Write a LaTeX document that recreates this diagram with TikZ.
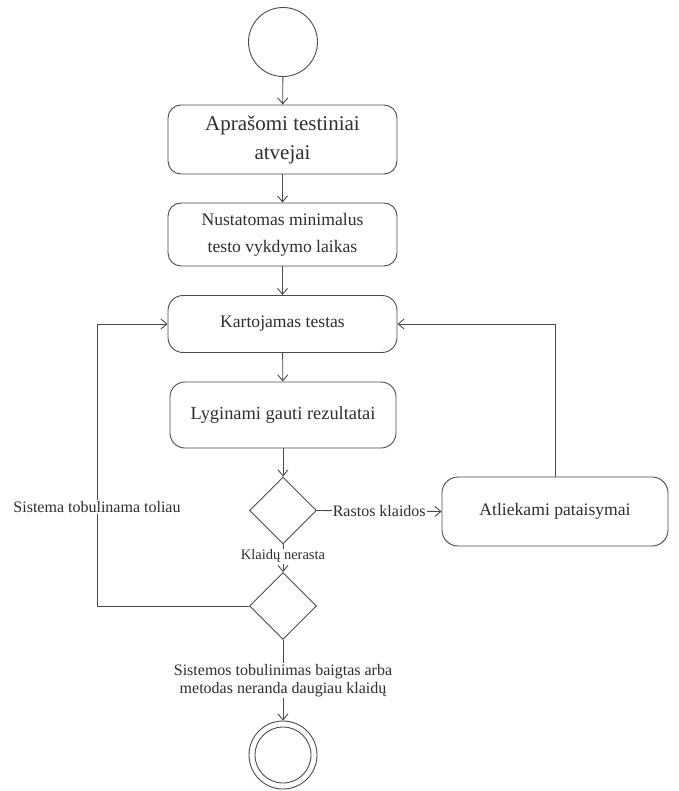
\documentclass[tikz,border=0pt]{standalone}
\usepackage{fontspec}
\newfontfamily\ff{Liberation Serif}
\usetikzlibrary{arrows.meta,shapes.geometric}
\definecolor{ln}{HTML}{4A4A4A}
\definecolor{tx}{HTML}{2E2E2E}
\tikzset{
  act/.style={draw=ln, line width=0.9pt, rounded corners=13pt, align=center, text=tx,
    inner sep=0pt, font=\ff\fontsize{17.6}{27}\selectfont},
  dec/.style={draw=ln, line width=0.9pt, diamond, minimum width=67pt, minimum height=67pt, inner sep=0pt},
  flow/.style={draw=ln, line width=0.9pt, -{Straight Barb[length=6pt,width=10pt]}},
  lbl/.style={fill=white, text=tx, inner sep=1pt, font=\ff\fontsize{16}{18}\selectfont, align=center},
  startc/.style={draw=ln, line width=0.9pt, circle, minimum size=69pt, inner sep=0pt},
}
\begin{document}
\begin{tikzpicture}[x=1pt,y=-1pt]
\useasboundingbox (0,0) rectangle (678,791);
\node[startc] (s) at (283,42) {};
\node[act, minimum width=229pt, minimum height=69pt, font=\ff\fontsize{21}{29}\selectfont] (a1) at (282.5,139.5) {Aprašomi testiniai\\atvejai};
\node[act, minimum width=229pt, minimum height=63pt] (a2) at (282.5,234.5) {Nustatomas minimalus\\testo vykdymo laikas};
\node[act, minimum width=229pt, minimum height=57pt, rounded corners=15pt] (a3) at (282.5,324) {Kartojamas testas};
\node[act, minimum width=226pt, minimum height=66pt, rounded corners=15pt, font=\ff\fontsize{18.4}{24}\selectfont] (a4) at (283,415) {Lyginami gauti rezultatai};
\node[dec] (d1) at (283,510.5) {};
\node[act, minimum width=226pt, minimum height=69pt, rounded corners=16pt] (a5) at (555,511.5) {Atliekami pataisymai};
\node[dec] (d2) at (283,606) {};
\node[draw=ln, line width=0.9pt, circle, minimum size=68pt, inner sep=0pt] (e) at (283,755) {};
\node[draw=ln, line width=0.9pt, circle, minimum size=56pt, inner sep=0pt] (ei) at (283,755) {};
\coordinate (lb) at (97,606);
\coordinate (lt) at (97,324);
\coordinate (rt) at (555,324);

\draw[flow] (s) -- (a1);
\draw[flow] (a1) -- (a2);
\draw[flow] (a2) -- (a3);
\draw[flow] (a3) -- (a4);
\draw[flow] (a4) -- (d1);
\draw[flow] (d1.east) -- node[lbl] (l1) {Rastos klaidos} (a5.west);
\draw[flow] (a5.north) -- (rt) -- (a3.east);
\draw[flow] (d1.south) -- node[lbl, pos=0.42, font=\ff\fontsize{14.5}{18}\selectfont] (l2) {Klaidų nerasta} (d2.north);
\draw[flow] (d2.west) -- (lb) -- (lt) -- (a3.west);
\node[lbl] (l3) at (97,507) {Sistema tobulinama toliau};
\draw[flow] (d2.south) -- node[lbl, pos=0.5] (l4) {Sistemos tobulinimas baigtas arba\\metodas neranda daugiau klaidų} (e.north);
\end{tikzpicture}
\end{document}
